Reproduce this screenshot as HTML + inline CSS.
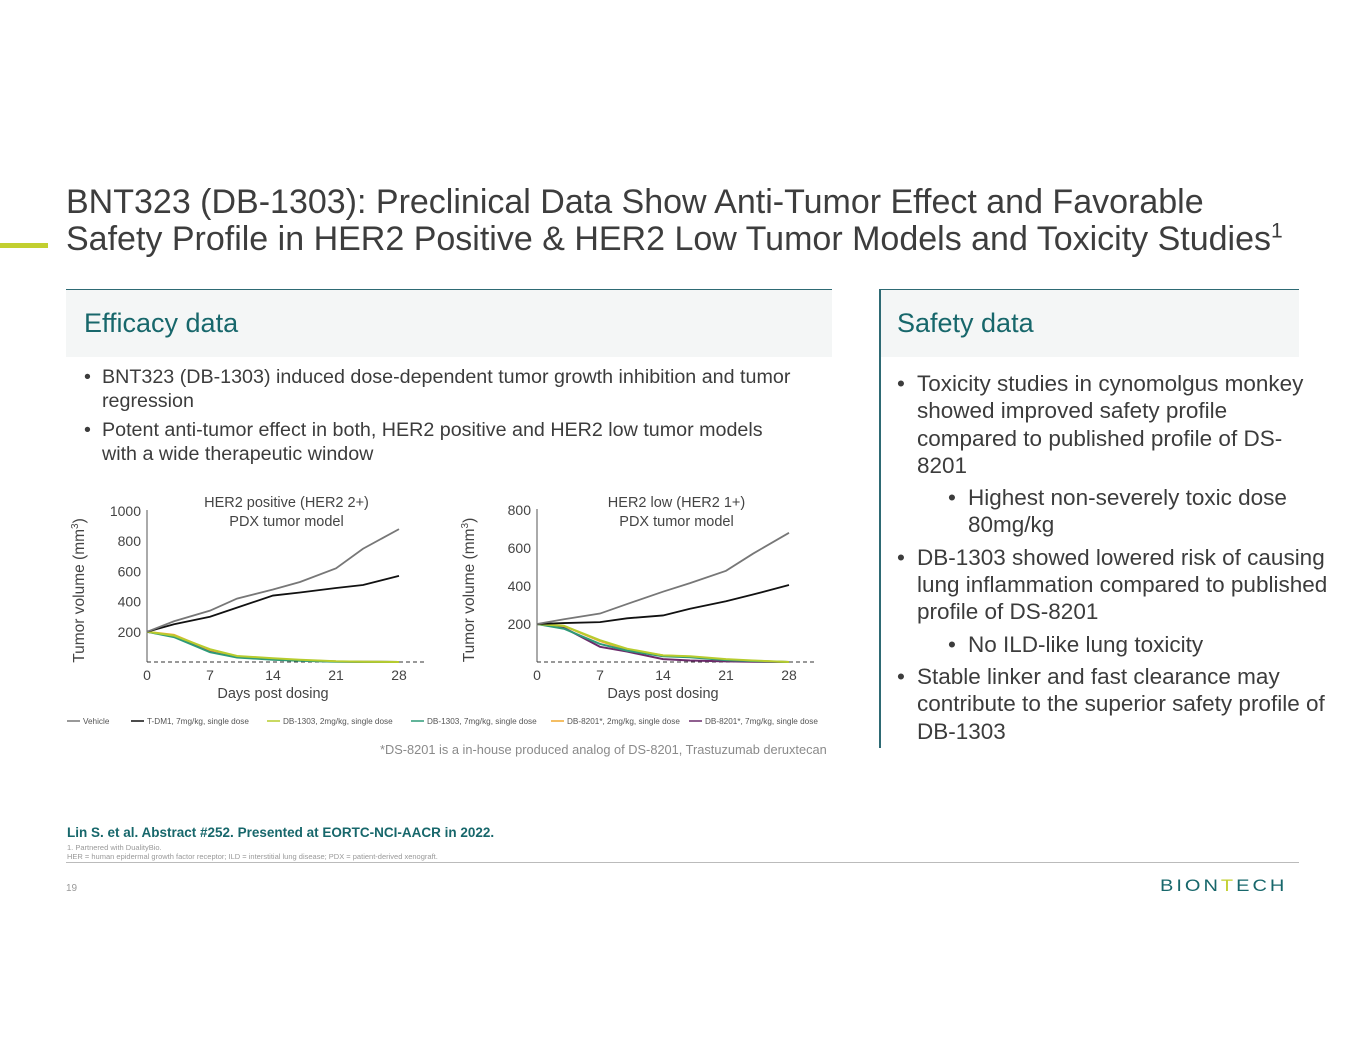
<!DOCTYPE html>
<html><head><meta charset="utf-8"><style>
body{margin:0;width:1365px;height:1055px;background:#fff;font-family:"Liberation Sans",sans-serif;position:relative;overflow:hidden;color:#3c3c3c}
.a{position:absolute;white-space:nowrap}
.b{padding-left:18px;text-indent:-18px}
.b i{font-style:normal;display:inline-block;width:18px;text-indent:0}
.s{padding-left:20px;text-indent:-20px}
.s i{font-style:normal;display:inline-block;width:20px;text-indent:0}
.s2{padding-left:71px;text-indent:-20px}
.s2 i{font-style:normal;display:inline-block;width:20px;text-indent:0}
</style></head><body>
<div class="a" style="left:0;top:243px;width:48px;height:5px;background:#c2cf2f"></div>
<div class="a" style="left:66px;top:184px;font-size:34px;line-height:37px;color:#3d3d3d">BNT323 (DB-1303): Preclinical Data Show Anti-Tumor Effect and Favorable<br>Safety Profile in HER2 Positive &amp; HER2 Low Tumor Models and Toxicity Studies<sup style="font-size:21px;line-height:0">1</sup></div>

<div class="a" style="left:66px;top:289px;width:766px;height:67px;background:#f4f6f6;border-top:1.5px solid #2e6a74"></div>
<div class="a" style="left:84px;top:308px;font-size:27px;color:#17676b">Efficacy data</div>
<div class="a" style="left:84px;top:366px;font-size:19.7px;line-height:23.5px;color:#3c3c3c">
<div class="b"><i>•</i>BNT323 (DB-1303) induced dose-dependent tumor growth inhibition and tumor<br>regression</div>
<div class="b" style="margin-top:6px"><i>•</i>Potent anti-tumor effect in both, HER2 positive and HER2 low tumor models<br>with a wide therapeutic window</div></div>

<div class="a" style="left:880px;top:289px;width:419px;height:67px;background:#f4f6f6;border-top:1.5px solid #2e6a74"></div>
<div class="a" style="left:879px;top:289px;width:1.5px;height:459px;background:#2e6a74"></div>
<div class="a" style="left:897px;top:308px;font-size:27px;color:#17676b">Safety data</div>
<div class="a" style="left:897px;top:370px;font-size:22.5px;line-height:27.3px;color:#3c3c3c">
<div class="s"><i>•</i>Toxicity studies in cynomolgus monkey<br>showed improved safety profile<br>compared to published profile of DS-<br>8201</div>
<div class="s2" style="margin-top:5px"><i>•</i>Highest non-severely toxic dose<br>80mg/kg</div>
<div class="s" style="margin-top:5px"><i>•</i>DB-1303 showed lowered risk of causing<br>lung inflammation compared to published<br>profile of DS-8201</div>
<div class="s2" style="margin-top:5px"><i>•</i>No ILD-like lung toxicity</div>
<div class="s" style="margin-top:5px"><i>•</i>Stable linker and fast clearance may<br>contribute to the superior safety profile of<br>DB-1303</div></div>

<svg class="a" style="left:0;top:0" width="1365" height="1055" id="svg" font-family="Liberation Sans, sans-serif"></svg>

<div class="a" style="left:380px;top:742px;font-size:12.8px;color:#8a8a8a">*DS-8201 is a in-house produced analog of DS-8201, Trastuzumab deruxtecan</div>
<div class="a" style="left:67px;top:825px;font-size:13.5px;font-weight:bold;color:#17676b">Lin S. et al. Abstract #252. Presented at EORTC-NCI-AACR in 2022.</div>
<div class="a" style="left:67px;top:843px;font-size:7.5px;line-height:9px;color:#999">1. Partnered with DualityBio.<br>HER = human epidermal growth factor receptor; ILD = interstitial lung disease; PDX = patient-derived xenograft.</div>
<div class="a" style="left:66px;top:862px;width:1233px;height:1px;background:#bbb"></div>
<div class="a" style="left:66px;top:883px;font-size:10px;color:#999">19</div>
<div class="a" style="left:1160px;top:875px;font-size:20px;letter-spacing:3px;color:#17676b;transform:scaleY(0.85)">BIO<span>N</span><span style="color:#c2cf2f">T</span>ECH</div>

<script>
const days=[0,3,7,10,14,17,21,24,28];
const c1Vehicle=[200,270,340,420,480,530,620,750,880];
const c1Tdm1=[200,250,300,360,440,460,490,510,570];
const c1Db2=[200,175,85,40,25,15,5,2,0];
const c1Db7=[200,165,65,30,15,8,2,1,0];
const c1Ds2=[200,180,80,38,22,12,4,2,0];
const c1Ds7=[200,170,70,32,18,10,3,1,0];
const c2Vehicle=[200,225,255,305,370,415,480,570,680];
const c2Tdm1=[200,205,210,230,245,280,320,355,405];
const c2Db2=[200,190,115,70,35,30,15,8,0];
const c2Db7=[200,175,95,60,30,25,10,5,0];
const c2Ds2=[200,190,110,65,35,28,12,6,0];
const c2Ds7=[200,180,80,55,15,8,3,1,0];
const c1Ticks=[200,400,600,800,1000];
const c2Ticks=[200,400,600,800];
const xTicks=[0,7,14,21,28];
const seriesNames=["Vehicle","T-DM1, 7mg/kg, single dose","DB-1303, 2mg/kg, single dose","DB-1303, 7mg/kg, single dose","DB-8201*, 2mg/kg, single dose","DB-8201*, 7mg/kg, single dose"];
const colors=["#777","#111","#b7cc2e","#2e9a78","#f0a830","#6b2a6a"];
const svg=document.getElementById('svg');
const NS='http://www.w3.org/2000/svg';
function mk(t,a,p){const e=document.createElementNS(NS,t);for(const k in a)e.setAttribute(k,a[k]);(p||svg).appendChild(e);return e;}
function chart(x0,y0,w,ymax,yh,ticks,series,title,name){
  const g=mk('g',{});
  
  
  const X=d=>x0+d/28*w, Y=v=>y0-v/ymax*yh;
  const ax=mk('line',{x1:x0,y1:y0,x2:x0,y2:y0-yh-1,stroke:'#555','stroke-width':1},g);
  
  const bl=mk('line',{x1:x0,y1:y0,x2:X(31),y2:y0,stroke:'#333','stroke-width':1,'stroke-dasharray':'4,3'},g);
  
  ticks.forEach(t=>{const e=mk('text',{x:x0-6,y:Y(t)+5,'text-anchor':'end','font-size':14,fill:'#444'},g);e.textContent=t;
    });
  xTicks.forEach(t=>{const e=mk('text',{x:X(t),y:y0+18,'text-anchor':'middle','font-size':14,fill:'#444'},g);e.textContent=t;
    });
  let e=mk('text',{x:X(14),y:y0+36,'text-anchor':'middle','font-size':14.5,fill:'#444'},g);e.textContent='Days post dosing';
  
  e=mk('text',{transform:`translate(${x0-63},${y0-yh/2+4}) rotate(-90)`,'text-anchor':'middle','font-size':15.5,fill:'#444'},g);
  e.innerHTML='Tumor volume (mm<tspan dy="-6" font-size="10">3</tspan><tspan dy="6">)</tspan>';
  
  title.forEach((t,i)=>{const e=mk('text',{x:X(15.5),y:y0-155+i*19,'text-anchor':'middle','font-size':14.5,fill:'#444'},g);e.textContent=t;
    });
  for(let s=series.length-1;s>=0;s--){const p=mk('polyline',{points:series[s].map((v,i)=>X(days[i])+','+Y(v)).join(' '),fill:'none',stroke:colors[s],'stroke-width':s<2?1.8:2},g);
    }
}
chart(147,662,252,1000,151,c1Ticks,[c1Vehicle,c1Tdm1,c1Db2,c1Db7,c1Ds2,c1Ds7],['HER2 positive (HER2 2+)','PDX tumor model'],'her2-positive-chart');
chart(537,662,252,800,152,c2Ticks,[c2Vehicle,c2Tdm1,c2Db2,c2Db7,c2Ds2,c2Ds7],['HER2 low (HER2 1+)','PDX tumor model'],'her2-low-chart');
const lx=[67,131,267,411,551,689];
seriesNames.forEach((n,i)=>{const g=mk('g',{});
  
  
  mk('line',{x1:lx[i],y1:721,x2:lx[i]+13,y2:721,stroke:colors[i],'stroke-width':1.5},g);
  const t=mk('text',{x:lx[i]+16,y:724,'font-size':8.2,fill:'#555'},g);t.textContent=n;});
</script>
</body></html>
